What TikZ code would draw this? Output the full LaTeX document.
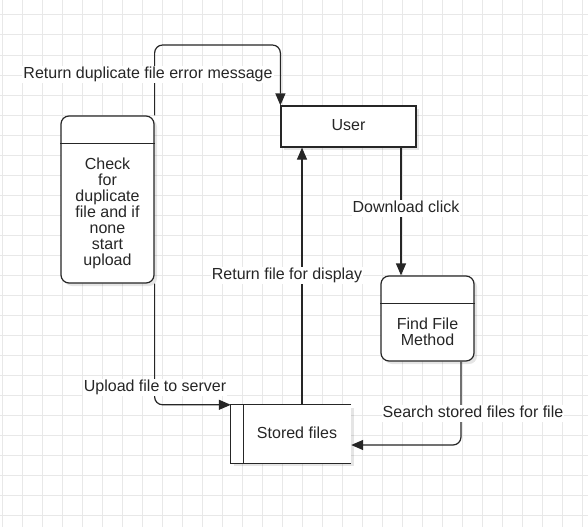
\documentclass[tikz,border=0pt]{standalone}
\usepackage{fontspec}
\setmainfont{Liberation Sans}
\usepackage{tikz}
\usetikzlibrary{arrows.meta,shadows,calc}

\begin{document}
\begin{tikzpicture}[x=1pt,y=-1pt,every node/.style={font=\fontsize{16}{16}\selectfont,text=black!85}]
	\tikzstyle{gridline}=[draw=black!9,line width=1pt]
	\tikzstyle{shade}=[drop shadow={shadow xshift=3pt,shadow yshift=-3pt,opacity=0.1,fill=black}]
	\tikzstyle{proc}=[rectangle,rounded corners=8pt,draw=black!85,line width=1.2pt,fill=white,shade,minimum width=93pt,inner sep=0pt]
	\tikzstyle{ext}=[rectangle,draw=black!85,line width=1.2pt,fill=white,shade,minimum width=135pt,minimum height=41pt,text height=11.5pt,text depth=3.5pt]
	\tikzstyle{store}=[rectangle,fill=white,shade,minimum width=120pt,minimum height=58pt,inner sep=0pt]
	\tikzstyle{edge}=[draw=black!85,line width=1.2pt]
	\tikzstyle{flow}=[edge,rounded corners=8pt,-{Triangle[length=12pt,width=10pt]}]
	\tikzstyle{lbl}=[fill=white,inner sep=1pt,text height=11.5pt,text depth=3.5pt]
	\tikzstyle{txt}=[align=center,inner sep=0pt]

	\useasboundingbox (0,0) rectangle (588,527);
	\fill[white] (0,0) rectangle (588,527);
	% grid
	\foreach \gx in {0,...,29}
		\draw[gridline] (2+20*\gx,0) -- (2+20*\gx,527);
	\foreach \gy in {0,...,25}
		\draw[gridline] (0,15+20*\gy) -- (588,15+20*\gy);

	% shapes
	\node (user)[ext] at (348.5,126.5) {User};
	\node (check)[proc,minimum height=167pt] at (107.5,199.5) {};
	\draw[edge] ($(check.north west)+(0,28)$) -- ($(check.north east)+(0,28)$);
	\node (checktxt)[txt] at (107.5,213.5) {Check\\for\\duplicate\\file and if\\none\\start\\upload};
	\node (find)[proc,minimum height=85pt] at (427.5,318.5) {};
	\draw[edge] ($(find.north west)+(0,28)$) -- ($(find.north east)+(0,28)$);
	\node (findtxt)[txt] at (427.5,332) {Find File\\Method};
	\node (stored)[store] at (291,434) {};
	\draw[edge] (stored.north east) -- (stored.north west) -- (stored.south west) -- (stored.south east);
	\draw[edge] ($(stored.north west)+(12.5,0)$) -- ($(stored.south west)+(12.5,0)$);
	\node (storedtxt)[text height=11.5pt,text depth=3.5pt] at (297,434) {Stored files};

	% connectors
	\coordinate (dup) at (200,45);
	\coordinate (up) at (302,0);
	\coordinate (dl) at (401,0);
	\coordinate (sr) at (461,445);
	\draw[flow] (check.north east) |- (dup) -| (user.north west);
	\draw[flow] (check.south east) |- (stored.north west);
	\draw[flow] (stored.north -| up) -- (user.south -| up);
	\draw[flow] (user.south -| dl) -- (find.north -| dl);
	\draw[flow] (find.south -| sr) |- (stored.east |- sr);

	% labels
	\node (lbldup)[lbl] at (148,74) {Return duplicate file error message};
	\node (lbldl)[lbl] at (406,208.5) {Download click};
	\node (lblret)[lbl] at (287,275) {Return file for display};
	\node (lblup)[lbl] at (155,387) {Upload file to server};
	\node (lblsr)[lbl] at (473,413) {Search stored files for file};
\end{tikzpicture}
\end{document}
